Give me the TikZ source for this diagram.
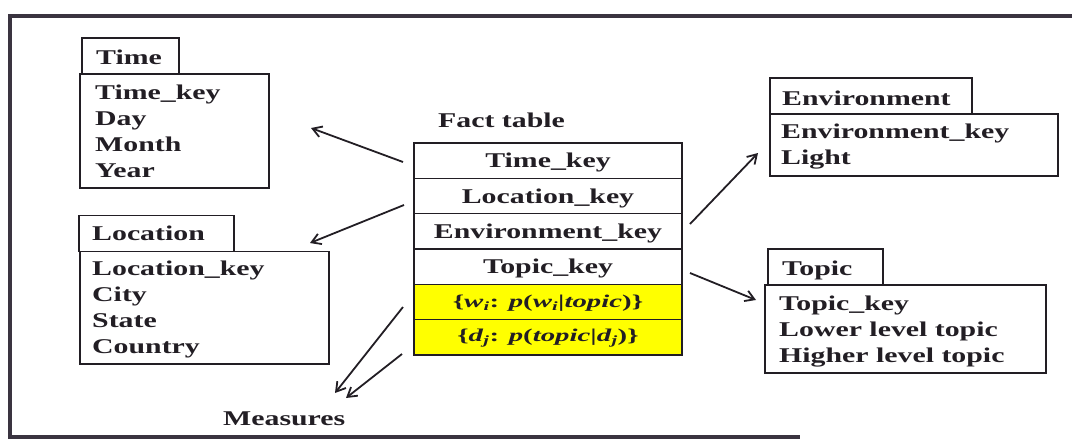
\documentclass[tikz,border=0pt]{standalone}
\usepackage{fontspec}
\setmainfont{Liberation Serif}[FakeStretch=1.42]
\newfontfamily\formulafont{Liberation Serif}[FakeStretch=1.6]
\usetikzlibrary{arrows.meta}
\definecolor{ink}{RGB}{34,30,36}
\definecolor{framegray}{RGB}{58,52,64}
\definecolor{measurefill}{RGB}{255,255,0}
\tikzset{
  tbl/.style={draw=ink, line width=1.6pt, inner sep=0pt, anchor=north west},
  factrow/.style={draw=ink, line width=1.6pt, inner sep=0pt, outer sep=0pt,
    anchor=north west, minimum width=268pt, minimum height=35.33pt},
  % multi-line labels are placed by the baseline of their last line
  lbl/.style={font=\fontsize{21}{26}\selectfont\bfseries, text=ink, inner sep=0pt,
    align=left, anchor=base west},
  rowtext/.style={font=\fontsize{21}{26}\selectfont\bfseries, text=ink, inner sep=0pt,
    yshift=-2pt},
  formula/.style={font=\fontsize{18}{22}\selectfont\formulafont\bfseries, text=ink,
    inner sep=0pt, yshift=-1pt},
  link/.style={draw=ink, line width=1.8pt, -{Straight Barb[length=9pt,width=11pt]}}
}
\begin{document}
\begin{tikzpicture}[x=1pt,y=-1pt]
\useasboundingbox (0,0) rectangle (1072,440);
% outer frame (open on the right)
\draw[framegray, line width=4pt] (1072,15.5) -- (10,15.5) -- (10,437) -- (800,437);

% Time dimension
\node[tbl, minimum width=97pt, minimum height=36pt] (timetab) at (81,37) {};
\node[tbl, minimum width=189pt, minimum height=114pt] (timebody) at (79,73) {};
\node[lbl] (timehead) at (96,64) {Time};
\node[lbl] (timeattr) at (95,177) {Time\_key\\Day\\Month\\Year};

% Location dimension
\node[tbl, minimum width=155pt, minimum height=36pt] (loctab) at (78,214.5) {};
\node[tbl, minimum width=249pt, minimum height=112.5pt] (locbody) at (79,250.5) {};
\node[lbl] (lochead) at (92,240.5) {Location};
\node[lbl] (locattr) at (92,353) {Location\_key\\City\\State\\Country};

% Environment dimension
\node[tbl, minimum width=202pt, minimum height=36pt] (envtab) at (769,77) {};
\node[tbl, minimum width=288pt, minimum height=62pt] (envbody) at (769,113) {};
\node[lbl] (envhead) at (782,105) {Environment};
\node[lbl] (envattr) at (781,164) {Environment\_key\\Light};

% Topic dimension
\node[tbl, minimum width=115pt, minimum height=36pt] (topictab) at (767,248) {};
\node[tbl, minimum width=281pt, minimum height=88pt] (topicbody) at (764,284) {};
\node[lbl] (topichead) at (782,275) {Topic};
\node[lbl] (topicattr) at (779,362) {Topic\_key\\Lower level topic\\Higher level topic};

% Fact table
\node[lbl] (facthead) at (438,127) {Fact table};
\node[factrow] (ftime) at (414,143) {};
\node[factrow, anchor=north] (floc) at (ftime.south) {};
\node[factrow, anchor=north] (fenv) at (floc.south) {};
\node[factrow, anchor=north] (ftopic) at (fenv.south) {};
\node[factrow, anchor=north, fill=measurefill] (fw) at (ftopic.south) {};
\node[factrow, anchor=north, fill=measurefill] (fd) at (fw.south) {};
\node[rowtext] at (ftime) {Time\_key};
\node[rowtext] at (floc) {Location\_key};
\node[rowtext] at (fenv) {Environment\_key};
\node[rowtext] at (ftopic) {Topic\_key};
\node[formula] at (fw) {\{\textit{w}\textsubscript{\textit{i}}: \textit{p}(\textit{w}\textsubscript{\textit{i}}|\textit{topic})\}};
\node[formula] at (fd) {\{\textit{d}\textsubscript{\textit{j}}: \textit{p}(\textit{topic}|\textit{d}\textsubscript{\textit{j}})\}};

% Measures label
\node[lbl] (measures) at (223,425) {Measures};

% connector end points
\coordinate (timeS) at (403,162);
\coordinate (timeE) at (311,128);
\coordinate (locS) at (404,205);
\coordinate (locE) at (310,243);
\coordinate (envS) at (690,224);
\coordinate (envE) at (758,153);
\coordinate (topicS) at (690,273);
\coordinate (topicE) at (756,300);
\coordinate (wS) at (403,307);
\coordinate (wE) at (335,393);
\coordinate (dS) at (402,354);
\coordinate (dE) at (346,398);

\draw[link] (timeS) -- (timeE);
\draw[link] (locS) -- (locE);
\draw[link] (envS) -- (envE);
\draw[link] (topicS) -- (topicE);
\draw[link] (wS) -- (wE);
\draw[link] (dS) -- (dE);
\end{tikzpicture}
\end{document}
